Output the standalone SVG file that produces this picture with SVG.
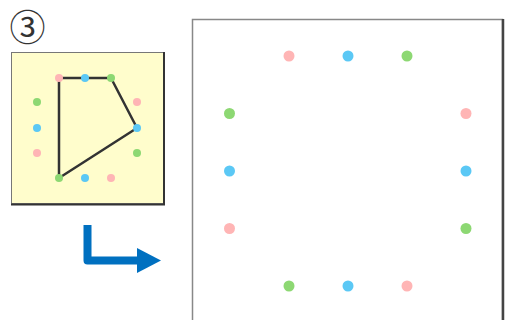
<svg xmlns="http://www.w3.org/2000/svg" width="507" height="320" viewBox="0 0 507 320">
<style>
.p{fill:#FFB5B5}.b{fill:#5BC8F5}.g{fill:#8DD873}
.num{font-family:"Noto Sans CJK JP",sans-serif;font-size:36px;fill:#333;font-weight:400}
</style>
<rect width="507" height="320" fill="#fff"/>
<g id="label"><text class="num" x="27.5" y="41" text-anchor="middle">③</text></g>
<g id="small-board">
<rect x="11.5" y="52.5" width="152" height="151" fill="#FFFDCC" stroke="#777" stroke-width="1"/>
<path d="M164 52 V204.5 H11" fill="none" stroke="#333" stroke-width="2"/>
<polygon points="59,78 111,78 137,128 59,178" fill="none" stroke="#333" stroke-width="2.5" stroke-linejoin="round"/>
<circle class="p" cx="59" cy="78" r="4"/><circle class="b" cx="85" cy="78" r="4"/><circle class="g" cx="111" cy="78" r="4"/>
<circle class="g" cx="37" cy="102" r="4"/><circle class="b" cx="37" cy="128" r="4"/><circle class="p" cx="37" cy="153" r="4"/>
<circle class="p" cx="137" cy="102" r="4"/><circle class="b" cx="137" cy="128" r="4"/><circle class="g" cx="137" cy="153" r="4"/>
<circle class="g" cx="59" cy="178" r="4"/><circle class="b" cx="85" cy="178" r="4"/><circle class="p" cx="111" cy="178" r="4"/>
</g>
<g id="connectors">
<path d="M87.5 225 V260.5 H140" fill="none" stroke="#0070C0" stroke-width="8" stroke-linejoin="round"/>
<polygon points="137,248 161,260.5 137,273" fill="#0070C0"/>
</g>
<g id="large-board">
<rect x="192.5" y="19.5" width="310" height="310" fill="#fff" stroke="#888" stroke-width="1.5"/>
<path d="M503 19 V320" stroke="#444" stroke-width="2.5"/>
<circle class="p" cx="289" cy="56" r="5.5"/><circle class="b" cx="348" cy="56" r="5.5"/><circle class="g" cx="407" cy="56" r="5.5"/>
<circle class="g" cx="229.5" cy="113.5" r="5.5"/><circle class="b" cx="229.5" cy="171" r="5.5"/><circle class="p" cx="229.5" cy="228.5" r="5.5"/>
<circle class="p" cx="466" cy="113.5" r="5.5"/><circle class="b" cx="466" cy="171" r="5.5"/><circle class="g" cx="466" cy="228.5" r="5.5"/>
<circle class="g" cx="289" cy="286" r="5.5"/><circle class="b" cx="348" cy="286" r="5.5"/><circle class="p" cx="407" cy="286" r="5.5"/>
</g>
</svg>
